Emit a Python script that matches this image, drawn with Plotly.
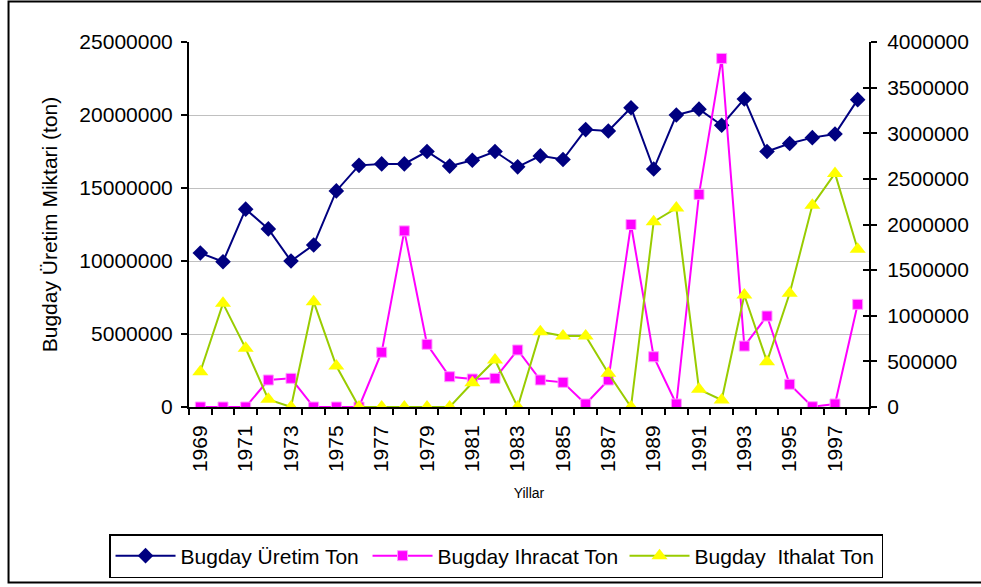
import plotly.graph_objects as go

years = list(range(1969, 1999))

uretim = [10550000, 9950000, 13550000, 12200000, 10000000, 11100000, 14800000, 16550000,
          16650000, 16650000, 17500000, 16500000, 16900000, 17500000, 16450000, 17200000,
          16950000, 19000000, 18900000, 20500000, 16300000, 20000000, 20400000, 19300000,
          21100000, 17500000, 18050000, 18450000, 18700000, 21050000]

ihracat = [0, 0, 0, 296000, 314000, 0, 0, 0,
           600000, 1930000, 687000, 332000, 307000, 314000, 625000, 296000,
           270000, 33000, 296000, 2000000, 551000, 33000, 2330000, 3820000,
           668000, 997000, 249000, 3000, 33000, 1125000]

ithalat = [387000, 1136000, 643000, 84000, 0, 1154000, 449000, 0,
           0, 0, 0, 0, 266000, 515000, 0, 825000,
           778000, 778000, 369000, 0, 2030000, 2180000, 194000, 77000,
           1227000, 497000, 1246000, 2210000, 2560000, 1728000]

label_years = list(range(1969, 1998, 2))

FONT = "Liberation Sans, Arial, sans-serif"

fig = go.Figure()

fig.add_trace(go.Scatter(
    x=years, y=uretim, name="Bugday Üretim Ton", mode="lines+markers",
    line=dict(color="#000080", width=2),
    marker=dict(symbol="diamond", size=12, color="#000080"),
    yaxis="y"
))
fig.add_trace(go.Scatter(
    x=years, y=ihracat, name="Bugday Ihracat Ton", mode="lines+markers",
    line=dict(color="#FF00FF", width=2),
    marker=dict(symbol="square", size=10, color="#FF00FF",
                line=dict(color="#FF9CFF", width=1)),
    yaxis="y2"
))
fig.add_trace(go.Scatter(
    x=years, y=ithalat, name="Bugday\u00a0 Ithalat Ton", mode="lines+markers",
    line=dict(color="#99CC00", width=2),
    marker=dict(symbol="triangle-up", size=14, color="#FFFF00"),
    yaxis="y2"
))
# empty trace so the crossing ticks of the right axis get drawn
fig.add_trace(go.Scatter(x=[None], y=[None], yaxis="y3", showlegend=False, hoverinfo="skip"))

fig.update_layout(
    width=981, height=587,
    template="none",
    paper_bgcolor="white", plot_bgcolor="white",
    margin=dict(l=189, r=112, t=42, b=180, autoexpand=False),
    font=dict(family=FONT, size=21, color="black"),
    xaxis=dict(
        range=[1968.5, 1998.5], tickmode="array", tickvals=label_years,
        ticktext=[str(y) for y in label_years], tickangle=-90,
        ticks="outside", ticklen=8, tickcolor="rgba(0,0,0,0)",
        minor=dict(tickmode="linear", tick0=1968.5, dtick=1, ticks="outside",
                   ticklen=6, tickwidth=2, tickcolor="black", showgrid=False),
        showgrid=False, zeroline=False, showline=True, linecolor="black", linewidth=2,
        title=dict(text="Yillar", font=dict(size=14), standoff=17),
        tickfont=dict(size=21),
    ),
    yaxis=dict(
        range=[0, 25000000], dtick=5000000, tickformat="d",
        ticks="outside", ticklen=6, tickwidth=2, tickcolor="black",
        showgrid=True, gridcolor="#c0c0c0", gridwidth=1, zeroline=False,
        showline=True, linecolor="black", linewidth=2,
        ticklabelstandoff=4,
        title=dict(text="Bugday Üretim Miktari (ton)", font=dict(size=21), standoff=16),
    ),
    yaxis2=dict(
        range=[0, 4000000], dtick=500000, tickformat="d", overlaying="y", side="right",
        ticks="outside", ticklen=6, tickwidth=2, tickcolor="black",
        showgrid=False, zeroline=False, showline=True, linecolor="black", linewidth=2,
        ticklabelstandoff=6,
    ),
    yaxis3=dict(
        range=[0, 4000000], dtick=500000, overlaying="y", side="right",
        ticks="inside", ticklen=6, tickwidth=2, tickcolor="black",
        showticklabels=False, showgrid=False, zeroline=False, showline=False,
    ),
    legend=dict(
        orientation="h", x=-0.1176, y=-0.348, xanchor="left", yanchor="top",
        bordercolor="black", borderwidth=1.5, bgcolor="white",
        font=dict(size=21), itemwidth=60, entrywidth=182,
    ),
    shapes=[dict(type="rect", xref="paper", yref="paper",
                 x0=-0.2654, x1=1.2, y0=-0.481, y1=1.111,
                 line=dict(color="black", width=2))],
)

fig.write_html("out.html", config={"displayModeBar": False},
               post_script="document.body.style.margin='0px';")
